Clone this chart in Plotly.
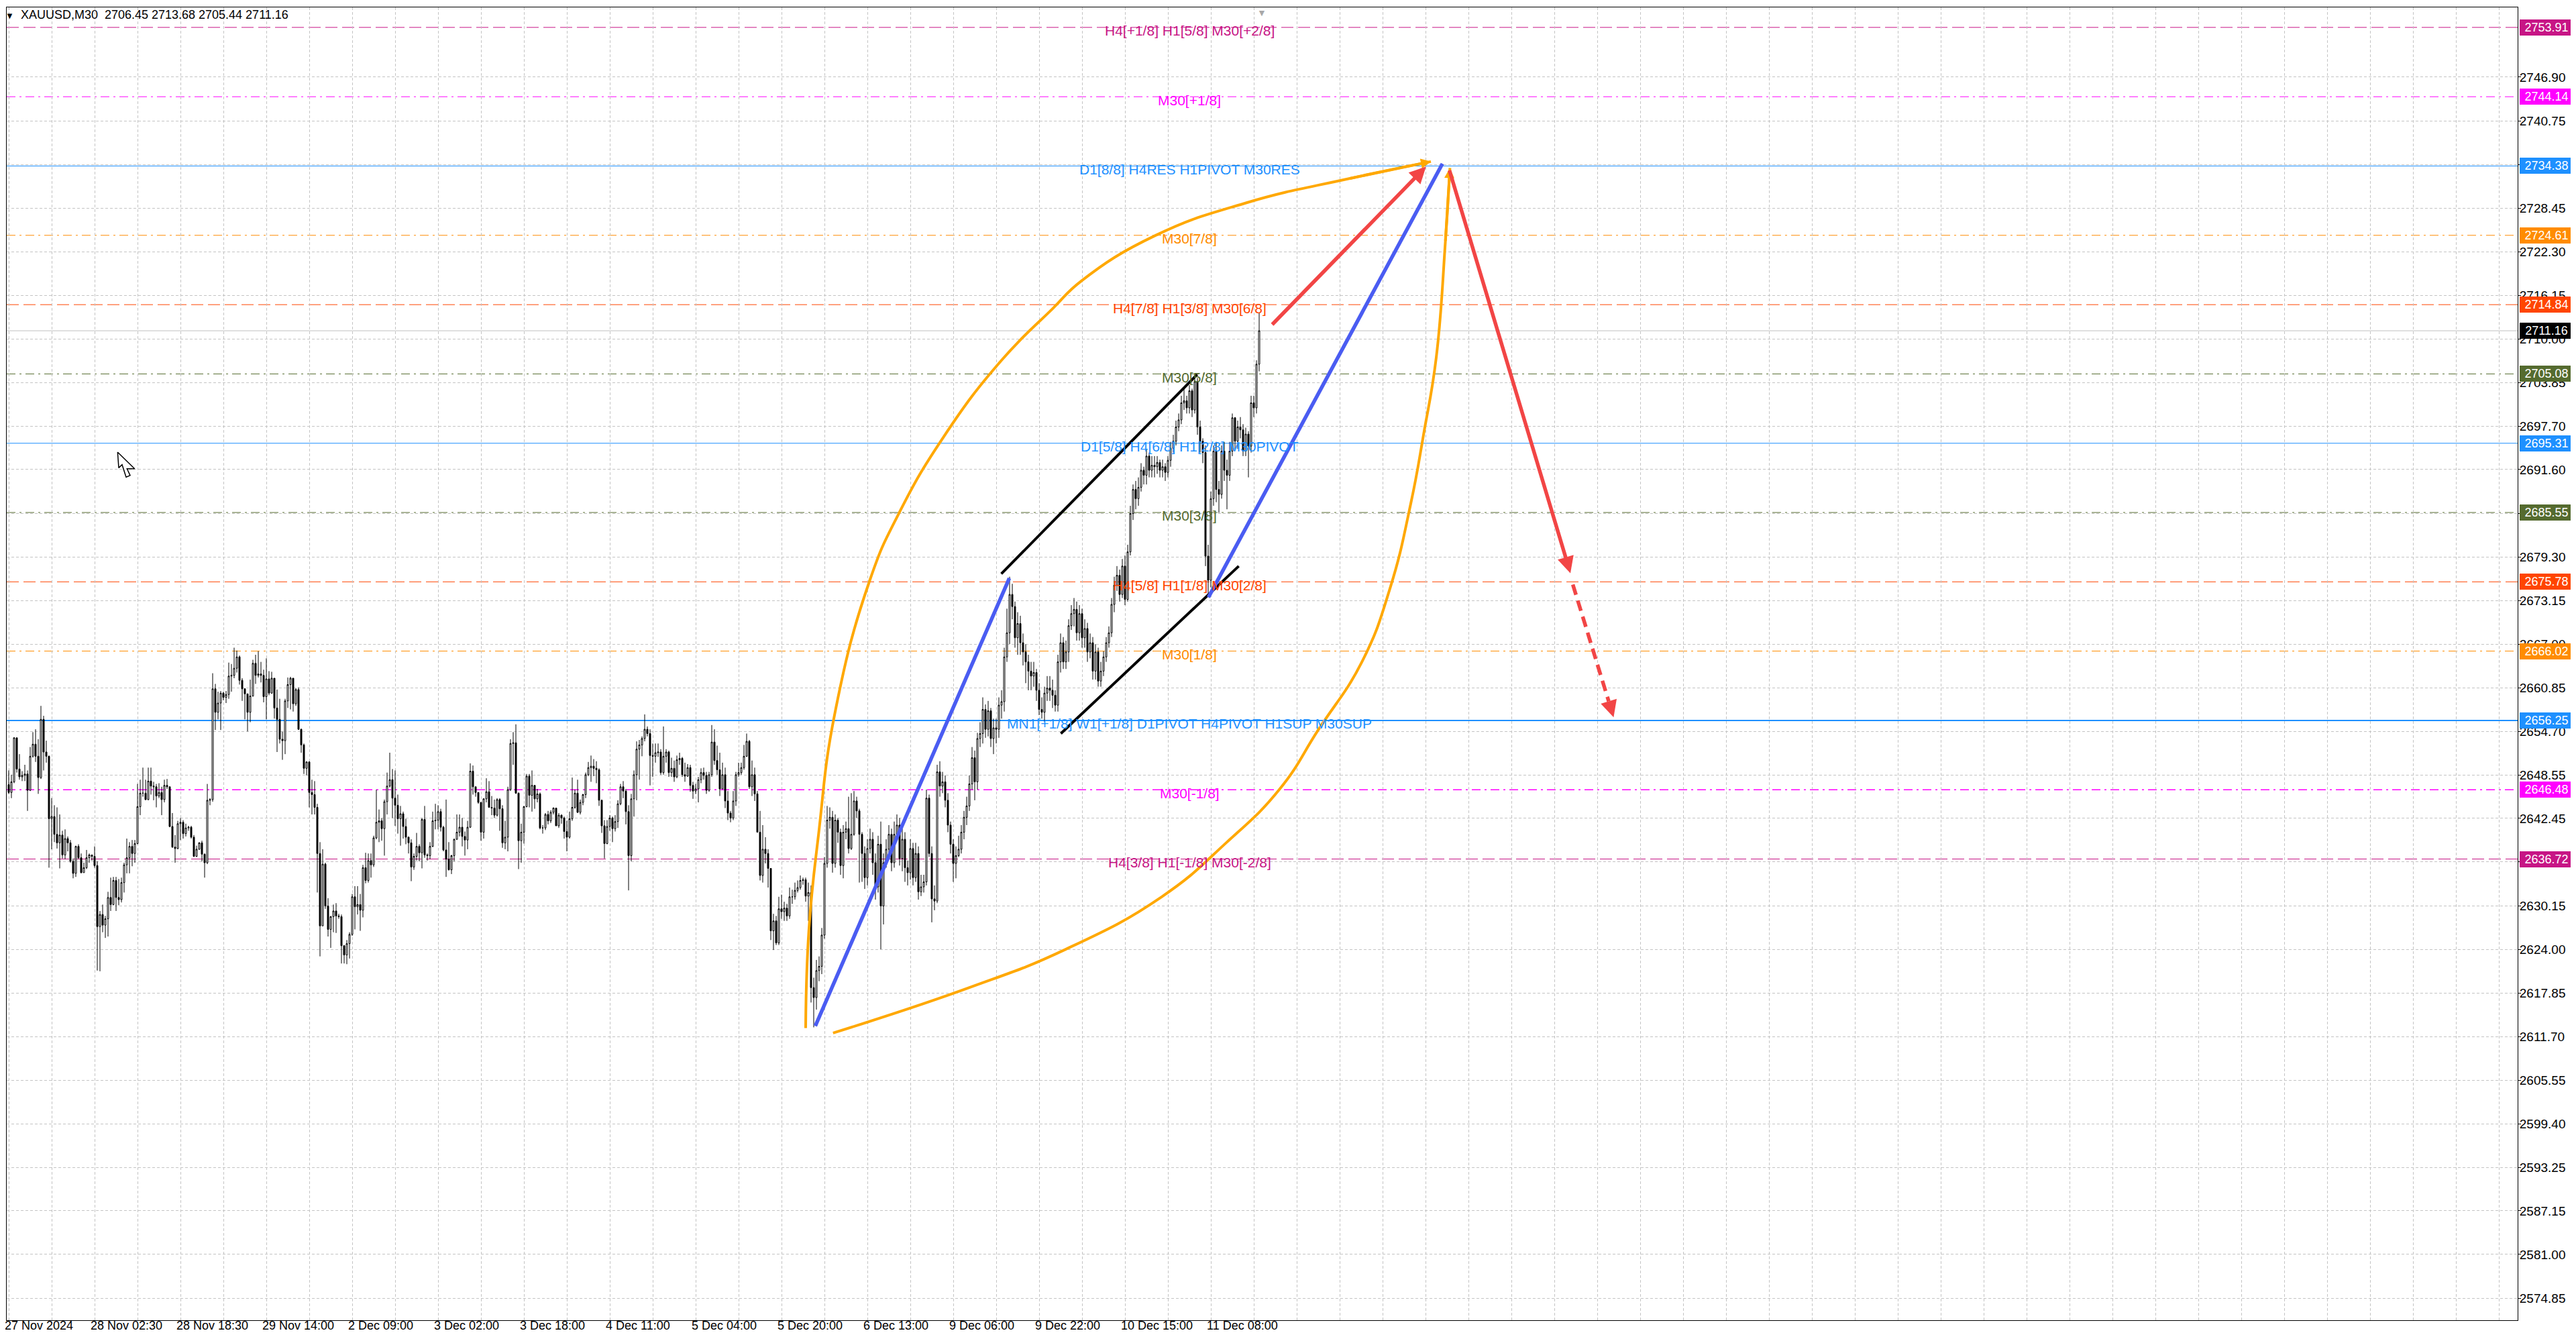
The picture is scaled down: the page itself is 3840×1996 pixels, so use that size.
import plotly.graph_objects as go

# ---------------- data ----------------
# XAUUSD M30 candles, oldest first (bar index = position in list)
first_open = 2647.2
bar_close = [
    2646.1, 2647.6, 2653.8, 2649.4, 2648.3, 2648.5, 2648.7, 2646.4, 2651.2, 2652.9,  # 0
    2651.2, 2648.2, 2656.4, 2651.8, 2651.2, 2642.4, 2642.7, 2640.2, 2639.0, 2640.1,  # 10
    2637.3, 2639.6, 2639.0, 2636.4, 2634.7, 2638.5, 2636.9, 2634.8, 2635.5, 2636.9,  # 20
    2637.3, 2637.1, 2635.8, 2627.2, 2628.9, 2627.4, 2628.3, 2631.3, 2630.3, 2633.7,  # 30
    2631.3, 2631.0, 2633.4, 2635.9, 2636.9, 2638.5, 2637.5, 2638.9, 2644.1, 2646.0,  # 40
    2646.0, 2645.1, 2647.7, 2647.0, 2646.9, 2645.6, 2646.1, 2645.1, 2647.1, 2646.9,  # 50
    2641.3, 2638.4, 2638.2, 2641.7, 2641.9, 2640.3, 2641.1, 2641.2, 2639.8, 2637.1,  # 60
    2638.1, 2639.0, 2637.4, 2636.2, 2645.0, 2645.1, 2660.7, 2657.4, 2658.7, 2660.1,  # 70
    2659.5, 2659.9, 2662.5, 2662.6, 2663.6, 2665.2, 2661.9, 2660.7, 2660.0, 2657.4,  # 80
    2659.7, 2664.3, 2662.6, 2662.8, 2662.6, 2659.6, 2662.1, 2660.1, 2662.2, 2658.0,  # 90
    2656.4, 2653.6, 2653.4, 2659.0, 2661.3, 2662.2, 2658.6, 2660.6, 2655.0, 2652.8,  # 100
    2649.5, 2650.4, 2646.1, 2645.8, 2644.0, 2637.5, 2627.3, 2636.0, 2630.1, 2626.8,  # 110
    2628.6, 2629.4, 2628.7, 2628.6, 2624.5, 2623.2, 2624.8, 2626.1, 2631.4, 2630.0,  # 120
    2630.3, 2629.5, 2635.5, 2633.7, 2636.5, 2635.9, 2639.7, 2641.9, 2642.1, 2641.0,  # 130
    2644.8, 2647.0, 2647.9, 2645.3, 2644.3, 2642.4, 2643.1, 2641.3, 2639.8, 2639.0,  # 140
    2635.6, 2637.1, 2638.5, 2637.6, 2642.3, 2637.3, 2637.2, 2638.5, 2642.1, 2642.2,  # 150
    2643.4, 2641.2, 2638.0, 2636.7, 2635.2, 2637.2, 2639.5, 2640.5, 2641.2, 2639.9,  # 160
    2639.4, 2641.2, 2649.1, 2646.9, 2646.1, 2644.7, 2640.5, 2645.2, 2646.2, 2644.0,  # 170
    2643.9, 2642.9, 2645.1, 2643.8, 2639.0, 2639.8, 2646.5, 2653.0, 2653.1, 2646.0,  # 180
    2639.3, 2640.5, 2644.1, 2648.4, 2645.7, 2647.1, 2645.2, 2645.9, 2641.1, 2641.1,  # 190
    2643.0, 2642.1, 2643.3, 2643.9, 2641.4, 2642.9, 2642.5, 2640.6, 2639.8, 2642.4,  # 200
    2644.0, 2646.0, 2643.3, 2644.7, 2645.8, 2648.6, 2649.6, 2649.8, 2649.5, 2649.3,  # 210
    2645.0, 2641.4, 2638.9, 2641.3, 2642.5, 2641.0, 2642.0, 2644.5, 2646.9, 2646.3,  # 220
    2643.4, 2637.2, 2645.2, 2648.6, 2652.2, 2652.8, 2653.7, 2655.0, 2654.4, 2651.3,  # 230
    2651.2, 2651.7, 2651.8, 2648.9, 2651.2, 2651.8, 2648.9, 2649.5, 2648.3, 2650.7,  # 240
    2650.9, 2648.6, 2648.4, 2649.6, 2647.1, 2646.3, 2646.6, 2647.9, 2648.9, 2648.5,  # 250
    2646.4, 2648.6, 2653.2, 2650.6, 2649.3, 2646.6, 2648.6, 2644.9, 2643.2, 2642.5,  # 260
    2644.9, 2648.6, 2648.9, 2649.6, 2651.2, 2653.3, 2646.9, 2648.6, 2645.9, 2640.5,  # 270
    2634.4, 2638.1, 2637.5, 2635.4, 2626.6, 2628.0, 2624.9, 2629.7, 2629.3, 2629.8,  # 280
    2628.7, 2631.4, 2631.4, 2632.3, 2632.7, 2633.7, 2633.8, 2631.5, 2632.0, 2618.6,  # 290
    2617.2, 2621.0, 2621.6, 2626.0, 2636.1, 2642.2, 2642.6, 2636.1, 2642.2, 2640.5,  # 300
    2635.8, 2640.5, 2641.0, 2638.2, 2640.2, 2644.9, 2643.5, 2640.2, 2637.5, 2634.1,  # 310
    2638.2, 2639.5, 2636.2, 2632.8, 2638.8, 2630.1, 2636.2, 2638.1, 2640.2, 2636.2,  # 320
    2640.2, 2641.5, 2636.8, 2639.5, 2635.5, 2634.8, 2638.2, 2634.1, 2637.5, 2632.1,  # 330
    2632.8, 2633.5, 2645.3, 2637.5, 2631.1, 2630.8, 2649.0, 2647.0, 2647.6, 2645.0,  # 340
    2641.5, 2638.8, 2636.1, 2637.2, 2638.1, 2640.5, 2642.6, 2644.2, 2647.3, 2651.0,  # 350
    2647.6, 2653.7, 2654.4, 2657.8, 2655.0, 2657.6, 2653.7, 2655.2, 2655.0, 2658.4,  # 360
    2658.9, 2665.2, 2668.6, 2674.0, 2672.3, 2667.9, 2669.9, 2667.2, 2665.9, 2664.5,  # 370
    2663.2, 2662.5, 2663.0, 2660.5, 2657.8, 2657.4, 2660.1, 2660.8, 2660.5, 2659.8,  # 380
    2658.4, 2664.5, 2667.2, 2664.5, 2665.9, 2669.6, 2671.3, 2671.9, 2668.6, 2671.3,  # 390
    2667.9, 2669.2, 2665.9, 2667.2, 2663.2, 2665.9, 2661.8, 2663.2, 2665.2, 2667.2,  # 400
    2668.6, 2672.6, 2675.3, 2676.7, 2674.0, 2678.0, 2673.3, 2680.0, 2685.4, 2688.8,  # 410
    2687.5, 2689.1, 2691.5, 2690.8, 2693.5, 2691.5, 2692.2, 2692.0, 2692.6, 2691.5,  # 420
    2692.0, 2691.2, 2692.9, 2694.6, 2695.6, 2697.6, 2698.6, 2701.0, 2701.3, 2700.3,  # 430
    2702.7, 2700.0, 2704.0, 2697.6, 2695.6, 2694.0, 2679.4, 2676.0, 2687.5, 2694.2,  # 440
    2688.8, 2688.1, 2694.2, 2691.5, 2690.8, 2694.2, 2698.9, 2695.6, 2697.6, 2697.2,  # 450
    2694.2, 2696.6, 2694.9, 2701.0, 2700.3, 2706.45, 2711.16,                         # 460
]
bar_high = [
    2649.2, 2648.6, 2653.9, 2653.8, 2651.5, 2649.1, 2650.0, 2649.2, 2652.5, 2654.6,
    2655.0, 2653.6, 2658.3, 2656.9, 2653.4, 2651.3, 2645.3, 2644.3, 2644.0, 2643.0,
    2640.7, 2640.9, 2639.9, 2639.4, 2636.8, 2638.6, 2638.8, 2637.5, 2636.2, 2638.0,
    2637.5, 2637.3, 2638.5, 2636.4, 2629.4, 2630.3, 2628.7, 2632.1, 2634.1, 2634.2,
    2634.2, 2633.9, 2634.1, 2636.2, 2639.6, 2639.1, 2639.4, 2639.4, 2647.3, 2647.9,
    2649.6, 2647.9, 2649.6, 2649.6, 2647.6, 2647.3, 2647.4, 2646.9, 2647.9, 2648.0,
    2646.9, 2643.2, 2640.1, 2642.1, 2642.5, 2642.2, 2641.7, 2641.4, 2641.4, 2640.1,
    2638.6, 2639.1, 2639.3, 2637.5, 2647.3, 2645.3, 2662.9, 2661.4, 2660.3, 2660.4,
    2660.3, 2660.4, 2664.4, 2664.2, 2666.5, 2666.1, 2665.4, 2662.2, 2660.8, 2660.0,
    2662.0, 2664.8, 2665.5, 2666.0, 2664.5, 2663.4, 2665.0, 2663.2, 2663.1, 2662.2,
    2660.6, 2659.3, 2654.7, 2659.3, 2662.3, 2662.4, 2662.2, 2660.8, 2660.9, 2655.1,
    2653.0, 2650.5, 2650.5, 2647.9, 2647.7, 2644.5, 2639.1, 2638.1, 2636.2, 2631.2,
    2628.7, 2630.3, 2630.5, 2629.0, 2628.9, 2624.6, 2625.3, 2626.4, 2631.8, 2632.9,
    2632.9, 2631.8, 2635.9, 2637.6, 2637.5, 2637.5, 2640.0, 2646.5, 2643.7, 2642.5,
    2645.1, 2648.9, 2651.7, 2649.4, 2649.2, 2645.8, 2644.2, 2643.4, 2642.4, 2639.9,
    2639.5, 2637.5, 2640.4, 2638.8, 2642.5, 2644.2, 2637.5, 2639.1, 2643.4, 2644.5,
    2644.3, 2643.8, 2641.4, 2645.1, 2639.1, 2637.3, 2639.6, 2643.0, 2643.0, 2642.5,
    2640.6, 2642.1, 2650.2, 2649.9, 2646.9, 2646.1, 2644.6, 2645.3, 2648.1, 2647.7,
    2645.6, 2645.1, 2645.3, 2645.3, 2644.3, 2642.1, 2646.9, 2653.6, 2654.6, 2655.7,
    2646.1, 2641.7, 2644.2, 2648.7, 2648.7, 2649.2, 2647.1, 2646.6, 2646.1, 2641.5,
    2643.2, 2643.5, 2643.6, 2644.0, 2643.9, 2643.2, 2643.0, 2642.7, 2642.1, 2643.4,
    2648.2, 2646.5, 2647.9, 2645.1, 2645.9, 2648.9, 2650.4, 2651.3, 2650.8, 2650.5,
    2649.5, 2645.1, 2642.2, 2642.2, 2642.9, 2642.7, 2642.9, 2645.0, 2647.3, 2647.7,
    2646.6, 2644.3, 2645.9, 2649.2, 2653.3, 2653.5, 2654.0, 2657.1, 2655.4, 2655.0,
    2653.0, 2653.0, 2653.0, 2652.2, 2655.4, 2652.2, 2652.0, 2651.0, 2650.6, 2651.3,
    2651.7, 2651.1, 2650.3, 2650.1, 2650.0, 2647.6, 2647.3, 2648.3, 2649.5, 2649.6,
    2649.0, 2649.0, 2655.6, 2655.0, 2652.7, 2651.7, 2650.3, 2649.6, 2646.3, 2643.5,
    2646.3, 2649.0, 2650.3, 2650.3, 2652.8, 2654.4, 2653.5, 2650.6, 2649.6, 2646.3,
    2643.5, 2641.5, 2639.8, 2638.1, 2635.4, 2629.0, 2628.7, 2631.4, 2631.7, 2630.7,
    2630.4, 2632.7, 2632.4, 2633.4, 2633.7, 2634.4, 2634.1, 2634.1, 2633.4, 2633.0,
    2620.0, 2622.5, 2623.0, 2627.0, 2637.0, 2644.2, 2644.0, 2643.5, 2643.0, 2642.5,
    2641.0, 2641.5, 2642.0, 2645.5, 2646.0, 2646.3, 2645.5, 2643.8, 2640.5, 2638.5,
    2639.5, 2641.0, 2640.5, 2637.5, 2640.0, 2642.0, 2637.5, 2639.5, 2641.5, 2641.0,
    2642.0, 2643.0, 2642.5, 2641.0, 2640.5, 2636.5, 2639.5, 2639.0, 2639.0, 2638.5,
    2634.5, 2634.5, 2646.5, 2645.8, 2638.5, 2633.0, 2650.0, 2650.5, 2649.0, 2648.5,
    2646.0, 2642.0, 2639.5, 2638.5, 2640.0, 2641.5, 2643.5, 2645.5, 2648.5, 2652.5,
    2652.0, 2654.5, 2656.0, 2659.5, 2658.5, 2659.0, 2658.0, 2656.5, 2656.5, 2659.5,
    2660.5, 2666.5, 2672.0, 2676.5, 2675.5, 2673.0, 2671.5, 2671.0, 2668.5, 2667.0,
    2665.5, 2664.5, 2664.5, 2663.5, 2661.5, 2659.5, 2661.0, 2662.5, 2662.5, 2662.0,
    2660.5, 2665.5, 2668.5, 2668.0, 2667.5, 2670.5, 2672.5, 2673.5, 2673.0, 2672.5,
    2672.0, 2670.5, 2670.0, 2668.5, 2668.0, 2667.0, 2666.5, 2664.5, 2666.0, 2668.0,
    2669.5, 2673.5, 2676.5, 2678.0, 2677.5, 2679.0, 2679.5, 2681.0, 2686.5, 2689.5,
    2690.0, 2690.5, 2692.5, 2692.0, 2694.5, 2694.0, 2693.5, 2693.5, 2693.5, 2693.0,
    2693.0, 2692.5, 2693.5, 2695.5, 2696.5, 2698.5, 2699.5, 2702.0, 2703.0, 2702.0,
    2703.5, 2703.0, 2705.0, 2704.5, 2698.5, 2696.0, 2695.0, 2681.0, 2688.5, 2695.0,
    2695.5, 2690.0, 2695.0, 2695.5, 2693.0, 2695.5, 2699.5, 2699.0, 2698.5, 2699.0,
    2698.0, 2697.5, 2697.0, 2702.0, 2702.0, 2707.0, 2713.68,
]
bar_low = [
    2645.9, 2645.3, 2647.4, 2648.9, 2647.9, 2647.7, 2647.7, 2643.5, 2646.3, 2651.0,
    2650.4, 2645.9, 2648.0, 2649.2, 2650.3, 2635.5, 2638.1, 2639.1, 2638.2, 2635.4,
    2636.8, 2636.7, 2637.8, 2636.2, 2634.0, 2634.2, 2636.7, 2634.7, 2634.8, 2635.3,
    2636.2, 2636.5, 2635.5, 2621.0, 2620.9, 2626.4, 2625.6, 2625.8, 2629.4, 2630.2,
    2629.4, 2630.2, 2630.6, 2632.0, 2634.7, 2634.7, 2635.7, 2636.2, 2638.8, 2642.9,
    2645.5, 2645.0, 2645.0, 2645.8, 2645.0, 2644.0, 2645.3, 2642.9, 2644.7, 2646.6,
    2641.2, 2638.3, 2636.2, 2638.1, 2639.4, 2639.6, 2639.9, 2640.7, 2639.6, 2637.0,
    2637.0, 2638.0, 2636.4, 2634.1, 2636.0, 2644.3, 2644.8, 2654.9, 2656.4, 2654.9,
    2659.1, 2658.7, 2659.3, 2660.3, 2662.2, 2663.0, 2661.3, 2659.0, 2656.4, 2654.7,
    2656.0, 2659.6, 2661.4, 2662.3, 2661.6, 2658.8, 2656.4, 2659.8, 2660.0, 2656.5,
    2651.8, 2653.0, 2650.7, 2651.5, 2658.0, 2657.8, 2657.5, 2658.3, 2654.9, 2651.7,
    2648.7, 2648.5, 2644.0, 2643.0, 2643.0, 2632.0, 2623.0, 2627.4, 2629.7, 2625.8,
    2624.2, 2626.4, 2626.3, 2628.3, 2622.0, 2622.0, 2621.9, 2622.7, 2625.9, 2626.8,
    2628.9, 2626.6, 2628.5, 2633.3, 2633.4, 2634.1, 2635.6, 2639.5, 2639.1, 2639.3,
    2637.2, 2643.0, 2646.8, 2642.5, 2641.4, 2640.3, 2638.6, 2639.6, 2638.8, 2637.5,
    2633.6, 2635.2, 2636.5, 2636.4, 2635.4, 2636.9, 2636.5, 2636.7, 2638.4, 2640.9,
    2640.9, 2640.6, 2637.8, 2634.2, 2635.1, 2634.6, 2636.4, 2639.4, 2639.9, 2638.5,
    2637.2, 2638.1, 2641.1, 2645.8, 2645.5, 2644.5, 2639.3, 2639.6, 2644.7, 2644.0,
    2642.9, 2642.5, 2642.7, 2640.7, 2638.3, 2638.1, 2637.8, 2646.3, 2650.0, 2645.9,
    2635.3, 2636.2, 2638.9, 2644.0, 2644.0, 2643.4, 2643.8, 2644.7, 2640.9, 2640.3,
    2640.8, 2641.6, 2641.8, 2643.0, 2641.4, 2641.1, 2641.7, 2639.6, 2637.8, 2639.6,
    2642.1, 2643.8, 2643.2, 2643.0, 2644.3, 2645.3, 2648.4, 2647.6, 2648.4, 2647.4,
    2644.2, 2640.4, 2636.8, 2638.8, 2640.7, 2639.1, 2640.6, 2641.1, 2644.3, 2645.3,
    2641.6, 2632.3, 2636.4, 2642.7, 2645.0, 2647.9, 2651.2, 2653.3, 2654.0, 2647.1,
    2648.3, 2650.3, 2651.1, 2648.6, 2648.6, 2650.3, 2648.3, 2648.3, 2647.6, 2648.1,
    2650.0, 2648.3, 2647.6, 2648.3, 2646.2, 2645.2, 2645.9, 2644.7, 2647.4, 2647.9,
    2645.9, 2646.2, 2648.3, 2650.0, 2648.6, 2645.6, 2646.6, 2643.9, 2642.2, 2641.9,
    2642.2, 2644.2, 2648.3, 2648.6, 2649.3, 2651.1, 2646.6, 2645.6, 2644.9, 2640.5,
    2633.7, 2633.4, 2636.1, 2632.7, 2625.3, 2623.9, 2624.6, 2624.6, 2628.3, 2628.0,
    2628.0, 2628.3, 2630.4, 2631.0, 2632.0, 2632.4, 2633.1, 2630.7, 2628.0, 2616.5,
    2613.0, 2615.5, 2619.5, 2620.5, 2625.5, 2635.5, 2641.0, 2634.8, 2635.5, 2639.0,
    2634.5, 2634.0, 2639.5, 2637.5, 2638.0, 2640.0, 2642.5, 2633.4, 2633.5, 2632.5,
    2633.0, 2637.5, 2634.5, 2631.0, 2632.0, 2624.0, 2627.5, 2635.5, 2637.0, 2635.0,
    2635.5, 2639.5, 2635.8, 2635.0, 2633.5, 2633.0, 2633.8, 2633.0, 2633.5, 2631.0,
    2631.5, 2632.0, 2633.0, 2637.0, 2627.8, 2629.5, 2630.5, 2645.5, 2646.0, 2644.0,
    2640.5, 2637.5, 2633.5, 2634.0, 2637.0, 2637.5, 2639.5, 2641.5, 2643.5, 2646.5,
    2645.0, 2646.5, 2652.5, 2653.0, 2653.8, 2654.0, 2652.5, 2651.5, 2653.0, 2653.8,
    2656.5, 2657.5, 2664.5, 2667.0, 2670.5, 2666.5, 2665.5, 2665.5, 2664.0, 2661.5,
    2660.5, 2660.5, 2661.0, 2659.0, 2657.0, 2656.5, 2656.0, 2659.0, 2659.0, 2658.0,
    2657.5, 2657.5, 2663.0, 2663.5, 2663.5, 2664.5, 2669.0, 2669.5, 2667.5, 2667.5,
    2666.5, 2666.5, 2664.5, 2665.0, 2662.0, 2662.0, 2661.0, 2661.0, 2662.5, 2664.5,
    2666.5, 2668.0, 2671.5, 2674.5, 2673.0, 2673.5, 2672.5, 2673.0, 2679.5, 2684.5,
    2686.0, 2686.5, 2688.5, 2689.5, 2689.5, 2690.5, 2690.5, 2690.5, 2691.0, 2690.5,
    2690.5, 2690.0, 2690.5, 2692.0, 2694.0, 2695.0, 2697.0, 2698.0, 2700.0, 2699.5,
    2699.5, 2699.0, 2699.5, 2696.5, 2694.0, 2692.5, 2678.0, 2673.6, 2675.0, 2686.5,
    2687.0, 2685.5, 2687.5, 2690.0, 2686.0, 2690.0, 2693.5, 2694.5, 2694.5, 2696.0,
    2693.5, 2693.5, 2690.5, 2694.0, 2699.0, 2699.5, 2705.44,
]

header_text = "XAUUSD,M30  2706.45 2713.68 2705.44 2711.16"

# time axis: label text and the bar it starts at
time_labels = ["27 Nov 2024", "28 Nov 02:30", "28 Nov 18:30", "29 Nov 14:00", "2 Dec 09:00",
               "3 Dec 02:00", "3 Dec 18:00", "4 Dec 11:00", "5 Dec 04:00", "5 Dec 20:00",
               "6 Dec 13:00", "9 Dec 06:00", "9 Dec 22:00", "10 Dec 15:00", "11 Dec 08:00"]
time_label_bars = [0, 32, 64, 96, 128, 160, 192, 224, 256, 288, 320, 352, 384, 416, 448]

# price scale ticks
price_ticks = ["2746.90", "2740.75", "2734.60", "2728.45", "2722.30", "2716.15", "2710.00",
               "2703.85", "2697.70", "2691.60", "2685.45", "2679.30", "2673.15", "2667.00",
               "2660.85", "2654.70", "2648.55", "2642.45", "2636.30", "2630.15", "2624.00",
               "2617.85", "2611.70", "2605.55", "2599.40", "2593.25", "2587.15", "2581.00",
               "2574.85"]
# ticks whose labels sit completely under a price tag in the terminal
covered_ticks = ["2685.45", "2636.30"]

# Murrey math levels (top to bottom) and their captions
level_prices = [2753.91, 2744.14, 2734.38, 2724.61, 2714.84, 2705.08, 2695.31,
                2685.55, 2675.78, 2666.02, 2656.25, 2646.48, 2636.72]
level_names = ["H4[+1/8] H1[5/8] M30[+2/8]", "M30[+1/8]", "D1[8/8] H4RES H1PIVOT M30RES",
               "M30[7/8]", "H4[7/8] H1[3/8] M30[6/8]", "M30[5/8]",
               "D1[5/8] H4[6/8] H1[2/8] M30PIVOT", "M30[3/8]", "H4[5/8] H1[1/8] M30[2/8]",
               "M30[1/8]", "MN1[+1/8] W1[+1/8] D1PIVOT H4PIVOT H1SUP M30SUP",
               "M30[-1/8]", "H4[3/8] H1[-1/8] M30[-2/8]"]
bid_price = 2711.16
last_bar_marker = 467  # chart-shift triangle on the top edge

# hand-drawn objects, anchor points as (bar, price)
blue_up_1_bar, blue_up_1_price = [300.6, 372.9], [2613.2, 2676.3]
blue_up_2_bar, blue_up_2_price = [447.1, 534.3], [2673.6, 2734.7]
channel_top_bar, channel_top_price = [369.9, 442.9], [2676.9, 2705.0]
channel_bot_bar, channel_bot_price = [392.1, 458.4], [2654.4, 2678.0]
arc_left_bar = [297.0, 298.2, 301.8, 307.8, 320.9, 331.7, 348.4, 370.0, 389.1,
                399.8, 427.4, 461.3, 499.5, 530.0]
arc_left_price = [2612.9, 2626.7, 2640.2, 2657.1, 2676.0, 2685.4, 2696.2, 2707.0, 2714.3,
                  2718.2, 2724.6, 2729.2, 2732.6, 2735.0]
arc_right_bar = [307.2, 358.0, 393.9, 429.7, 453.7, 473.7, 488.0, 504.3, 514.8,
                 522.5, 527.3, 532.0, 535.4, 537.1]
arc_right_price = [2612.2, 2618.6, 2624.0, 2631.4, 2639.0, 2646.6, 2654.9, 2664.5, 2674.9,
                   2686.8, 2696.6, 2707.4, 2723.7, 2734.1]
red_up_bar, red_up_price = [470.5, 528.2], [2711.9, 2734.3]
red_down_bar, red_down_price = [536.8, 582.0], [2733.9, 2677.0]
red_dash_bar, red_dash_price = [582.9, 598.1], [2675.4, 2656.7]
# mouse pointer left on the chart
cursor_bar = [40.58, 41.0, 42.25, 43.75, 45.25, 44.08, 46.93]
cursor_price = [2694.05, 2691.85, 2692.29, 2690.53, 2690.78, 2691.72, 2691.72]

# ---------------- styling ----------------
FONT = "Liberation Sans, Arial, sans-serif"
LEVEL_COLOURS = ['#C71585', '#FF00FF', '#1E90FF', '#FF8C00', '#FF4500', '#556B2F', '#1E90FF',
                 '#556B2F', '#FF4500', '#FF8C00', '#1E90FF', '#FF00FF', '#C71585']
DASH_LONG = '18px,7px'
DASH_DOT = '13px,6px,3px,6px'
LEVEL_DASH = [DASH_LONG, DASH_DOT, 'solid', DASH_DOT, DASH_LONG, DASH_DOT, 'solid',
              DASH_DOT, DASH_LONG, DASH_DOT, 'solid', DASH_DOT, DASH_LONG]
LEVEL_WIDTH = [1, 1, 1, 1, 1, 1, 1, 1, 1, 1, 2, 1.5, 1]
LABEL_BAR = 440
BLUE, RED, ORANGE = '#4a5cf2', '#f24545', '#ffa800'

n = len(bar_close)
bar_idx = list(range(n))
bar_open = [first_open] + bar_close[:-1]
hi = [max(h, o, c) for h, o, c in zip(bar_high, bar_open, bar_close)]
lo = [min(l, o, c) for l, o, c in zip(bar_low, bar_open, bar_close)]

fig = go.Figure()

fig.add_trace(go.Candlestick(
    x=bar_idx, open=bar_open, high=hi, low=lo, close=bar_close,
    increasing=dict(line=dict(color='black', width=1), fillcolor='white'),
    decreasing=dict(line=dict(color='black', width=1), fillcolor='black'),
    whiskerwidth=0, hoverinfo='skip', showlegend=False,
))

# Murrey levels + captions
for price, name, col, dash, w in zip(level_prices, level_names, LEVEL_COLOURS, LEVEL_DASH, LEVEL_WIDTH):
    fig.add_shape(type='line', xref='paper', yref='y', x0=0, x1=1, y0=price, y1=price,
                  line=dict(color=col, width=w, dash=dash), layer='between')
    fig.add_annotation(x=LABEL_BAR, y=price, text=name, showarrow=False, xanchor='center',
                       yanchor='middle', yshift=-5, font=dict(family=FONT, size=21, color=col))

# bid line
fig.add_shape(type='line', xref='paper', yref='y', x0=0, x1=1, y0=bid_price, y1=bid_price,
              line=dict(color='#c0c0c0', width=1), layer='between')


def line(xs, ys, colour, width, dash='solid', shape='linear'):
    fig.add_trace(go.Scatter(x=xs, y=ys, mode='lines', hoverinfo='skip', showlegend=False,
                             line=dict(color=colour, width=width, dash=dash, shape=shape,
                                       smoothing=1.3 if shape == 'spline' else None)))


def arrow(tip_x, tip_y, tail_x, tail_y, colour, width, size=0.9):
    fig.add_annotation(x=tip_x, y=tip_y, ax=tail_x, ay=tail_y, xref='x', yref='y',
                       axref='x', ayref='y', text='', showarrow=True, arrowhead=2,
                       arrowsize=size, arrowwidth=width, arrowcolor=colour,
                       standoff=0, startstandoff=0)


# orange arcs
line(arc_left_bar, arc_left_price, ORANGE, 4, shape='spline')
line(arc_right_bar, arc_right_price, ORANGE, 4, shape='spline')
arrow(arc_left_bar[-1], arc_left_price[-1], arc_left_bar[-2], arc_left_price[-2], ORANGE, 4, 0.75)
arrow(arc_right_bar[-1], arc_right_price[-1], arc_right_bar[-2], arc_right_price[-2], ORANGE, 4, 0.75)

# black channel and blue trend lines
line(channel_top_bar, channel_top_price, 'black', 4)
line(channel_bot_bar, channel_bot_price, 'black', 4)
line(blue_up_1_bar, blue_up_1_price, BLUE, 5.5)
line(blue_up_2_bar, blue_up_2_price, BLUE, 5.5)

# red projection arrows
arrow(red_up_bar[1], red_up_price[1], red_up_bar[0], red_up_price[0], RED, 5.5)
arrow(red_down_bar[1], red_down_price[1], red_down_bar[0], red_down_price[0], RED, 5.5)
# dashed leg: dashed shaft, head drawn only on the last short piece
head_frac = 0.12
neck_bar = red_dash_bar[1] - head_frac * (red_dash_bar[1] - red_dash_bar[0])
neck_price = red_dash_price[1] - head_frac * (red_dash_price[1] - red_dash_price[0])
line([red_dash_bar[0], neck_bar], [red_dash_price[0], neck_price], RED, 5.5, dash='16px,9px')
arrow(red_dash_bar[1], red_dash_price[1], neck_bar, neck_price, RED, 5.5)

# mouse pointer
fig.add_trace(go.Scatter(x=cursor_bar + cursor_bar[:1], y=cursor_price + cursor_price[:1],
                         mode='lines', fill='toself', fillcolor='white', hoverinfo='skip',
                         showlegend=False, line=dict(color='black', width=1.5)))

# price tags on the right scale
for price, col in zip(level_prices + [bid_price], LEVEL_COLOURS + ['black']):
    fig.add_annotation(xref='paper', yref='y', x=1, y=price, xanchor='left', xshift=3,
                       text=f'{price:.2f}', showarrow=False, bgcolor=col, bordercolor=col,
                       borderpad=1, width=76, height=20, align='center',
                       font=dict(family=FONT, size=18, color='white'))

# time labels (left aligned at their bar, MetaTrader style)
for lab, b in zip(time_labels, time_label_bars):
    fig.add_annotation(x=b, y=0, xref='x', yref='paper', yanchor='top', xanchor='left',
                       xshift=-8, yshift=4, text=lab, showarrow=False,
                       font=dict(family=FONT, size=18, color='black'))

# header
fig.add_annotation(xref='paper', yref='paper', x=0, y=1, xanchor='left', yanchor='top',
                   xshift=-4, yshift=1, showarrow=False,
                   text='<span style="font-size:13px">▼</span>  ' + header_text,
                   font=dict(family=FONT, size=18, color='black'))

# chart-shift marker on the top edge
fig.add_annotation(x=last_bar_marker, y=1, xref='x', yref='paper', yanchor='top',
                   xanchor='center', yshift=2, text='▼', showarrow=False,
                   font=dict(family=FONT, size=14, color='#a8a8a8'))

tick_text = ['' if t in covered_ticks else t for t in price_ticks]

fig.update_layout(
    width=3840, height=1996, autosize=False,
    margin=dict(l=2, r=95, t=3, b=36, pad=0),
    paper_bgcolor='white', plot_bgcolor='white',
    hovermode=False, showlegend=False,
    xaxis=dict(range=[-0.75, 935], rangeslider=dict(visible=False), showticklabels=False,
               tick0=0, dtick=16, showgrid=True, gridcolor='#c4c4c4', griddash='4px,3px',
               gridwidth=1, zeroline=False, showline=True, linecolor='black', linewidth=1,
               mirror=True, ticks=''),
    yaxis=dict(range=[2571.73, 2756.73], side='right',
               tickvals=[float(t) for t in price_ticks], ticktext=tick_text,
               tickfont=dict(family=FONT, size=19, color='black'),
               ticks='outside', ticklen=4, tickcolor='black', ticklabelstandoff=-6,
               showgrid=True, gridcolor='#c4c4c4', griddash='4px,3px', gridwidth=1,
               zeroline=False, showline=True, linecolor='black', linewidth=1, mirror=True),
)

fig.write_html("out.html")
